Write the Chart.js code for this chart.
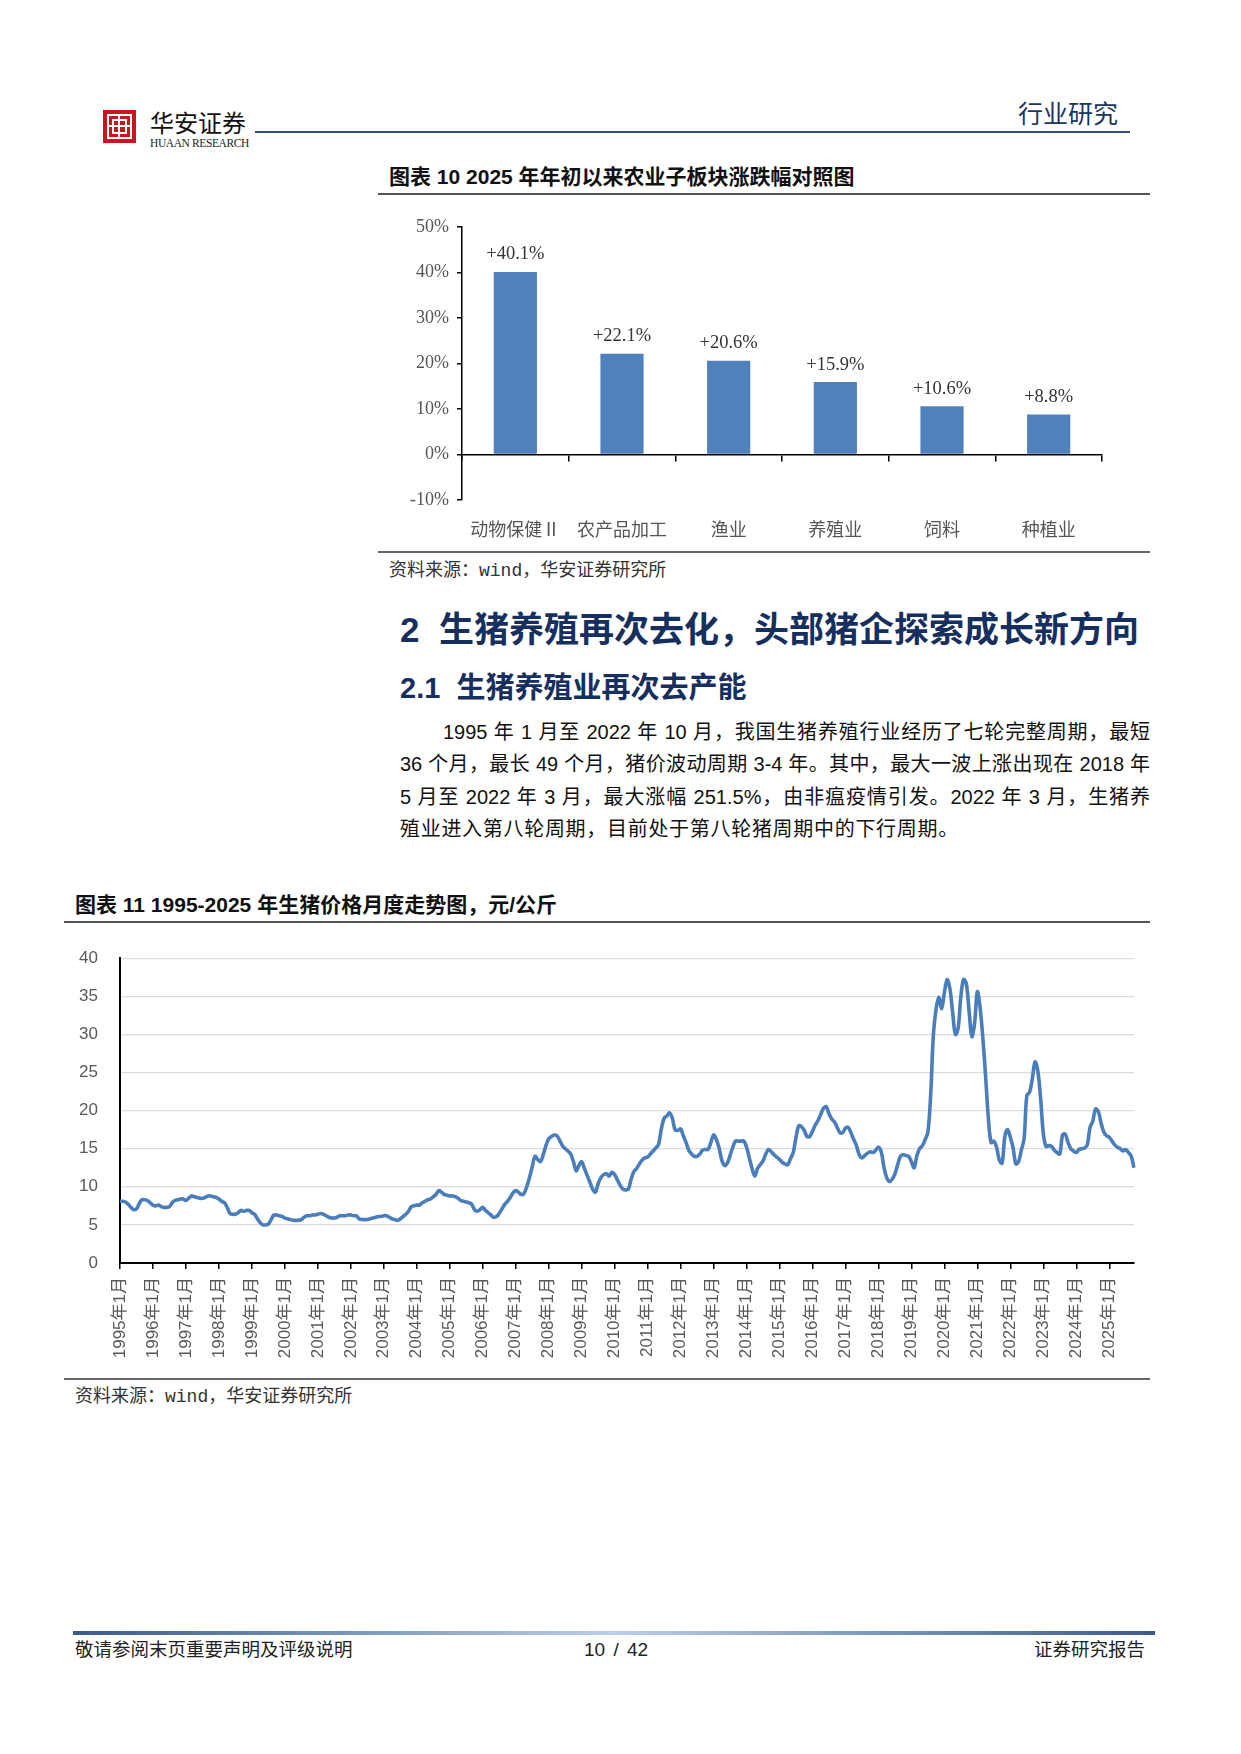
<!DOCTYPE html>
<html><head><meta charset="utf-8">
<script src="https://cdn.jsdelivr.net/npm/chart.js@4.4.1/dist/chart.umd.min.js"></script>
<style>
html,body{margin:0;padding:0;background:#fff;}
body{width:1241px;height:1754px;position:relative;overflow:hidden;font-family:"Liberation Sans","Noto Sans CJK SC",sans-serif;color:#111;}
.abs{position:absolute;white-space:nowrap;}
.hline{position:absolute;}
.ttl{font-weight:700;font-size:21px;line-height:24px;color:#111;}
.src{font-size:18px;line-height:20px;color:#333;}
.para{position:absolute;left:400px;width:750px;font-size:20px;line-height:26px;text-align:justify;text-align-last:justify;white-space:nowrap;}
</style></head>
<body>
<!-- header -->
<div class="abs" style="left:103px;top:110px;width:33px;height:33px;background:#c9151e;"></div>
<div class="abs" style="left:107px;top:114px;width:21px;height:21px;border:2px solid #fff;"></div>
<div class="abs" style="left:112px;top:119px;width:11px;height:11px;border:2px solid #fff;"></div>
<div class="abs" style="left:118px;top:114px;width:2px;height:25px;background:#fff;"></div>
<div class="abs" style="left:107px;top:125px;width:25px;height:2px;background:#fff;"></div>
<div class="abs" style="left:150px;top:108px;font-size:24px;line-height:28px;color:#111;font-family:'Noto Sans CJK SC';">华安证券</div>
<div class="abs" style="left:150px;top:137px;font-size:11.5px;line-height:13px;color:#222;font-family:'Liberation Serif';letter-spacing:-0.4px;">HUAAN RESEARCH</div>
<div class="hline" style="left:255px;top:131px;width:875px;height:2px;background:#34507a;"></div>
<div class="abs" style="left:1018px;top:97px;font-size:25px;line-height:30px;color:#1c3462;font-family:'Noto Sans CJK SC';">行业研究</div>

<!-- chart 10 -->
<div class="abs ttl" style="left:389px;top:165px;">图表 10 2025 年年初以来农业子板块涨跌幅对照图</div>
<div class="hline" style="left:378px;top:193px;width:772px;height:2px;background:#555;"></div>
<div class="abs" style="left:380px;top:208px;width:740px;height:339px;"><canvas id="c1" width="740" height="339"></canvas></div>
<div class="hline" style="left:378px;top:551px;width:772px;height:1.5px;background:#666;"></div>
<div class="abs src" style="left:389px;top:560px;">资料来源：<span style="font-family:'Liberation Mono'">wind</span>，华安证券研究所</div>

<!-- section text -->
<div class="abs" style="left:400px;top:608px;font-size:35px;line-height:44px;font-weight:700;color:#172f5e;">2&nbsp;&nbsp;生猪养殖再次去化，头部猪企探索成长新方向</div>
<div class="abs" style="left:400px;top:670px;font-size:29px;line-height:36px;font-weight:700;color:#172f5e;">2.1&nbsp;&nbsp;生猪养殖业再次去产能</div>
<div class="para" style="top:719px;left:443px;width:707px;">1995 年 1 月至 2022 年 10 月，我国生猪养殖行业经历了七轮完整周期，最短</div>
<div class="para" style="top:751px;">36 个月，最长 49 个月，猪价波动周期 3-4 年。其中，最大一波上涨出现在 2018 年</div>
<div class="para" style="top:784px;">5 月至 2022 年 3 月，最大涨幅 251.5%，由非瘟疫情引发。2022 年 3 月，生猪养</div>
<div class="para" style="top:816px;text-align:left;text-align-last:left;letter-spacing:0.7px;">殖业进入第八轮周期，目前处于第八轮猪周期中的下行周期。</div>

<!-- chart 11 -->
<div class="abs ttl" style="left:75px;top:893px;">图表 11 1995-2025 年生猪价格月度走势图，元/公斤</div>
<div class="hline" style="left:64px;top:921px;width:1086px;height:2px;background:#555;"></div>
<div class="abs" style="left:60px;top:926px;width:1090px;height:449px;"><canvas id="c2" width="1090" height="449"></canvas></div>
<div class="hline" style="left:64px;top:1378px;width:1086px;height:1.5px;background:#666;"></div>
<div class="abs src" style="left:75px;top:1386px;">资料来源：<span style="font-family:'Liberation Mono'">wind</span>，华安证券研究所</div>

<!-- footer -->
<div class="hline" style="left:73px;top:1631px;width:1082px;height:4px;background:linear-gradient(to right,#3a5a88,#bccfe6 50%,#3a5a88);"></div>
<div class="abs" style="left:75px;top:1639px;font-size:18.5px;line-height:22px;color:#222;">敬请参阅末页重要声明及评级说明</div>
<div class="abs" style="left:584px;top:1639px;font-size:19px;line-height:22px;color:#222;word-spacing:3px;">10 / 42</div>
<div class="abs" style="left:1034px;top:1639px;font-size:18.5px;line-height:22px;color:#222;">证券研究报告</div>

<script>
// ---------- Chart 10 data ----------
const sectors = ['动物保健Ⅱ', '农产品加工', '渔业', '养殖业', '饲料', '种植业'];
const sectorChange = [40.1, 22.1, 20.6, 15.9, 10.6, 8.8];
const pctTicks = [-10, 0, 10, 20, 30, 40, 50];

// ---------- Chart 11 data (元/公斤, monthly from 1995-01) ----------
const startYear = 1995;
const pigPrice = [
  8.1, 8.1, 8.0, 7.7, 7.3, 7.0, 7.1, 7.8, 8.3, 8.3, 8.2, 7.9,      // 1995
  7.6, 7.5, 7.6, 7.4, 7.3, 7.3, 7.4, 7.9, 8.2, 8.3, 8.4, 8.4,      // 1996
  8.2, 8.5, 8.8, 8.7, 8.6, 8.5, 8.5, 8.6, 8.8, 8.8, 8.7, 8.6,      // 1997
  8.4, 8.1, 7.9, 7.3, 6.5, 6.4, 6.4, 6.6, 6.9, 6.8, 6.9, 6.9,      // 1998
  6.6, 6.4, 5.8, 5.3, 5.0, 5.0, 5.1, 5.7, 6.3, 6.3, 6.2, 6.1,      // 1999
  5.9, 5.8, 5.7, 5.6, 5.6, 5.6, 5.7, 6.0, 6.2, 6.2, 6.3, 6.3,      // 2000
  6.4, 6.5, 6.4, 6.2, 6.0, 5.9, 5.9, 6.0, 6.2, 6.2, 6.2, 6.3,      // 2001
  6.3, 6.2, 6.2, 5.8, 5.7, 5.7, 5.7, 5.8, 5.9, 6.0, 6.1, 6.1,      // 2002
  6.2, 6.2, 6.0, 5.8, 5.7, 5.6, 5.8, 6.1, 6.4, 6.8, 7.4, 7.5,      // 2003
  7.6, 7.6, 7.9, 8.1, 8.3, 8.4, 8.7, 9.0, 9.5, 9.3, 9.0, 8.9,      // 2004
  8.8, 8.8, 8.7, 8.5, 8.2, 8.1, 8.0, 7.9, 7.7, 7.0, 6.8, 7.0,      // 2005
  7.3, 6.9, 6.6, 6.3, 6.0, 6.1, 6.5, 7.1, 7.7, 8.1, 8.6, 9.2,      // 2006
  9.5, 9.3, 9.0, 9.1, 10.0, 11.2, 12.6, 14.0, 13.6, 13.3, 14.2, 15.4, // 2007
  16.3, 16.6, 16.8, 16.7, 16.1, 15.4, 15.0, 14.7, 14.3, 13.3, 12.1, 12.8, // 2008
  13.3, 12.4, 11.5, 10.6, 9.7, 9.3, 10.4, 11.2, 11.6, 11.7, 11.4, 11.9, // 2009
  11.6, 10.9, 10.2, 9.7, 9.6, 9.7, 11.0, 12.0, 12.4, 13.0, 13.5, 13.8, // 2010
  13.9, 14.3, 14.7, 15.1, 15.6, 17.6, 19.0, 19.3, 19.7, 19.0, 17.5, 17.4, // 2011
  17.6, 16.7, 15.8, 14.8, 14.3, 14.0, 14.0, 14.3, 14.8, 14.9, 14.9, 15.8, // 2012
  16.8, 16.2, 15.1, 13.5, 12.8, 13.1, 14.1, 15.2, 16.0, 16.0, 16.0, 16.0, // 2013
  15.2, 13.8, 12.4, 11.4, 12.4, 12.9, 13.4, 14.3, 14.9, 14.6, 14.2, 13.9, // 2014
  13.6, 13.2, 13.0, 12.9, 13.7, 14.5, 16.5, 18.0, 17.9, 17.4, 16.6, 16.6, // 2015
  17.3, 18.1, 18.7, 19.5, 20.3, 20.5, 19.6, 18.9, 18.5, 17.8, 17.1, 17.1, // 2016
  17.7, 17.8, 17.1, 16.2, 15.4, 14.2, 13.8, 14.1, 14.4, 14.6, 14.5, 14.8, // 2017
  15.2, 14.6, 12.6, 11.2, 10.7, 11.0, 11.7, 12.9, 14.0, 14.2, 14.1, 14.0, // 2018
  13.3, 12.5, 14.1, 15.0, 15.4, 16.2, 17.2, 22.0, 30.0, 33.4, 34.9, 33.4, // 2019
  35.5, 37.2, 36.0, 32.9, 30.0, 30.8, 35.0, 37.2, 36.6, 33.0, 29.7, 31.5, // 2020
  35.6, 33.5, 29.5, 24.5, 19.0, 15.8, 16.0, 15.2, 13.5, 13.1, 16.6, 17.5, // 2021
  16.5, 15.1, 13.0, 13.3, 14.8, 16.3, 22.0, 22.4, 24.2, 26.4, 25.2, 21.7, // 2022
  17.0, 15.3, 15.4, 15.3, 14.8, 14.5, 14.3, 16.8, 16.9, 15.8, 15.0, 14.7, // 2023
  14.5, 14.9, 15.0, 15.1, 15.5, 17.8, 18.6, 20.2, 19.9, 18.4, 17.2, 16.7, // 2024
  16.5, 16.0, 15.5, 15.2, 15.0, 14.7, 14.9, 14.5, 14.0, 12.5              // 2025
];
const monthLabels = pigPrice.map((_, i) => (startYear + Math.floor(i / 12)) + '年' + (i % 12 + 1) + '月');
const priceTicks = [0, 5, 10, 15, 20, 25, 30, 35, 40];

Chart.defaults.animation = false;
Chart.defaults.devicePixelRatio = 1;

// ---------- Chart 10 ----------
const barLabelPlugin = {
  id: 'barLabels',
  afterDatasetsDraw(chart) {
    const ctx = chart.ctx;
    const meta = chart.getDatasetMeta(0);
    ctx.save();
    ctx.font = '18.5px "Liberation Serif", serif';
    ctx.fillStyle = '#333';
    ctx.textAlign = 'center';
    ctx.textBaseline = 'bottom';
    meta.data.forEach((el, i) => {
      const v = chart.data.datasets[0].data[i];
      ctx.fillText((v >= 0 ? '+' : '') + v.toFixed(1) + '%', el.x, el.y - 8);
    });
    ctx.restore();
  }
};

new Chart(document.getElementById('c1'), {
  type: 'bar',
  data: {
    labels: sectors,
    datasets: [{
      data: sectorChange,
      backgroundColor: '#4f81bd',
      borderWidth: 0,
      categoryPercentage: 1,
      barPercentage: 0.405
    }]
  },
  options: {
    responsive: false,
    layout: { padding: { top: 0, right: 18, bottom: 0, left: 0 } },
    plugins: { legend: { display: false }, tooltip: { enabled: false } },
    scales: {
      x: {
        type: 'category',
        position: 'bottom',
        grid: { display: false, drawTicks: false },
        border: { display: false },
        ticks: { color: '#555', padding: 18, font: { size: 18, family: '"Noto Sans CJK SC", sans-serif' }, maxRotation: 0, autoSkip: false },
        afterFit(s) { s.height = 47; }
      },
      x0: {
        type: 'category',
        position: { y: 0 },
        offset: true,
        grid: { offset: true, drawOnChartArea: false, drawTicks: true, tickLength: 6, color: '#000', lineWidth: 1.5 },
        border: { display: true, color: '#000', width: 1.5 },
        ticks: { display: false }
      },
      y: {
        min: -10, max: 50,
        afterBuildTicks(s) { s.ticks = pctTicks.map(v => ({ value: v })); },
        grid: { drawOnChartArea: false, drawTicks: true, tickLength: 5, color: '#000', lineWidth: 1.5 },
        border: { display: true, color: '#000', width: 1.5 },
        ticks: { color: '#555', padding: 8, font: { size: 18, family: '"Liberation Serif", serif' }, callback: v => v + '%' },
        afterFit(s) { s.width = 82; }
      }
    }
  },
  plugins: [barLabelPlugin]
});

// ---------- Chart 11 ----------
new Chart(document.getElementById('c2'), {
  type: 'line',
  data: {
    labels: monthLabels,
    datasets: [{
      data: pigPrice,
      borderColor: '#4a7ebb',
      borderWidth: 3.6,
      pointRadius: 0,
      tension: 0.35,
      fill: false
    }]
  },
  options: {
    responsive: false,
    layout: { padding: { top: 0, right: 16, bottom: 0, left: 0 } },
    plugins: { legend: { display: false }, tooltip: { enabled: false } },
    scales: {
      x: {
        type: 'category',
        offset: false,
        grid: { drawOnChartArea: false, drawTicks: true, tickLength: 6, color: '#000', lineWidth: 1.5 },
        border: { display: true, color: '#000', width: 2 },
        ticks: {
          autoSkip: false, minRotation: 90, maxRotation: 90, padding: 8, color: '#595959',
          font: { size: 17, family: '"Liberation Sans", "Noto Sans CJK SC", sans-serif' },
          callback(v, i) { return i % 12 === 0 ? this.getLabelForValue(v) : null; }
        },
        afterFit(s) { s.height = 112; }
      },
      y: {
        min: 0, max: 40,
        afterBuildTicks(s) { s.ticks = priceTicks.map(v => ({ value: v })); },
        grid: { drawTicks: false, color: '#dcdcdc', lineWidth: 1.2 },
        border: { display: true, color: '#000', width: 2 },
        ticks: { color: '#595959', padding: 22, font: { size: 17, family: '"Liberation Sans", sans-serif' } },
        afterFit(s) { s.width = 60; }
      }
    }
  }
});
</script>
</body></html>
